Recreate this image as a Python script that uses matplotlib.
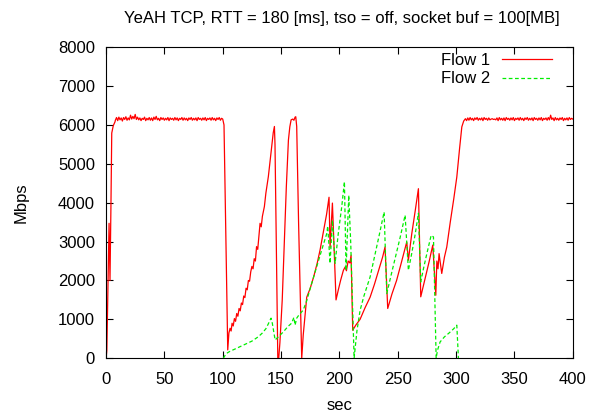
import numpy as np
import matplotlib
matplotlib.use("Agg")
import matplotlib.pyplot as plt

plt.rcParams['font.family'] = ['Liberation Sans', 'DejaVu Sans']

title = "YeAH TCP, RTT = 180 [ms], tso = off, socket buf = 100[MB]"

# Flow 1: start-up, flat steady state, congestion phase, flat again
f1_start_t = [0, 0.7, 1.6, 2.6, 3.4, 4.2, 4.9, 6.2, 7.7]
f1_start_v = [0, 200, 1800, 3470, 2000, 3900, 5790, 5980, 6080]

f1_flat1_v = [6120, 6190, 6110, 6200, 6130, 6180, 6100, 6190, 6140, 6210,
              6120, 6180, 6130, 6250, 6150, 6220, 6160, 6270, 6140, 6200,
              6130, 6180, 6110, 6170, 6140, 6200, 6110, 6170, 6130, 6190,
              6120, 6180, 6110, 6200, 6140, 6220, 6130, 6170, 6110, 6190,
              6140, 6180, 6120, 6170, 6130, 6190, 6110, 6180, 6140, 6170,
              6120, 6190, 6130, 6180, 6110, 6170, 6140, 6190, 6120, 6180,
              6130, 6170, 6110, 6180, 6140, 6190, 6120, 6170, 6130, 6180,
              6110, 6190, 6140, 6170, 6120, 6180, 6130, 6190, 6110, 6170,
              6140, 6180, 6120, 6190, 6130, 6170, 6110, 6180, 6140, 6190,
              6120, 6170, 6150]

f1_mid_t = [101.1, 104.3, 105.3, 106.3, 107.2, 108, 109, 110, 111, 112, 113,
            114, 115, 116, 117, 118, 119, 120, 121, 122, 123, 124, 125, 126,
            127, 128, 129, 130, 131, 132, 133, 134, 135.7, 137, 138, 139.1,
            140.5, 142, 143.3, 144.3, 144.8, 147.2, 148, 149, 151, 152.8, 154.5,
            156.3, 157.5, 158.6, 160, 161, 162, 162.6, 163.4, 165, 167.7, 169,
            172, 175, 178, 181, 183.4, 186, 189, 191.1, 192, 194, 197.1, 199,
            201, 203.4, 205, 206, 207.5, 209, 210, 211.4, 214, 217.7, 222,
            226.3, 230, 234, 237, 239.1, 241.4, 245, 249, 253, 257.7, 259.1,
            262, 265, 267.7, 269.7, 273, 277, 280, 282.6, 283.5, 284.5, 285.4,
            287.7, 290, 292, 295, 298, 300.6, 303, 304.9, 306.5]
f1_mid_v = [6000, 215, 650, 770, 700, 900, 830, 1020, 950, 1150, 1080, 1280,
            1220, 1420, 1380, 1600, 1560, 1800, 1760, 2000, 1980, 2220, 2360,
            2300, 2560, 2500, 2870, 2800, 3150, 3470, 3380, 3650, 3900, 4250,
            4450, 4670, 5050, 5450, 5800, 5960, 5500, 0, 0, 400, 1500, 2970,
            4400, 5610, 5950, 6130, 6150, 6120, 6200, 6210, 5960, 3500, 0, 600,
            1570, 1800, 2100, 2450, 2780, 3200, 3700, 4140, 2850, 3990, 1500,
            1750, 2000, 2260, 2350, 2250, 2500, 2450, 2650, 720, 850, 1000,
            1300, 1570, 1900, 2300, 2600, 2860, 1280, 1650, 2000, 2450, 2990,
            2520, 3200, 3800, 4360, 1580, 2000, 2500, 2910, 1620, 2500, 2300,
            2690, 2180, 2600, 2860, 3500, 4100, 4660, 5400, 5950, 6100]

f1_flat2_v = [6160, 6110, 6180, 6120, 6190, 6130, 6170, 6110, 6180, 6140,
              6190, 6120, 6170, 6130, 6180, 6110, 6190, 6140, 6170, 6120,
              6180, 6130, 6150, 6160, 6140, 6150, 6130, 6180, 6110, 6190,
              6130, 6170, 6120, 6180, 6110, 6190, 6140, 6170, 6120, 6180,
              6130, 6190, 6110, 6170, 6140, 6180, 6120, 6190, 6130, 6170,
              6110, 6180, 6140, 6190, 6120, 6170, 6130, 6180, 6110, 6190,
              6140, 6170, 6120, 6180, 6130, 6190, 6110, 6170, 6140, 6180,
              6120, 6190, 6130, 6250, 6140, 6180, 6110, 6190, 6130, 6170,
              6120, 6180, 6140, 6190, 6110, 6170, 6130, 6180, 6120, 6190,
              6140, 6170, 6150]

# Flow 2 only runs between ~100 and ~300 sec
f2_t = [100.5, 103, 106.3, 110, 115, 120, 125, 130.6, 134, 137, 139, 141.4,
        142.5, 144.9, 148, 152, 156, 159, 161, 162, 163.4, 165, 169, 172, 175,
        179, 183, 186, 189.1, 190, 192, 194, 196.3, 199, 202, 204.3, 205.7,
        208, 209.7, 212.6, 215, 217.7, 221, 226.3, 230, 234, 238.3, 240.6, 244,
        248, 252, 256.3, 259.1, 262, 265, 267.7, 269.7, 272, 275, 278.6, 280.6,
        282.9, 284, 286.3, 290, 294, 298, 300.6, 302]
f2_v = [0, 120, 180, 230, 300, 370, 440, 555, 650, 760, 880, 1030, 900, 470,
        560, 680, 820, 900, 1050, 850, 1030, 1100, 1240, 1480, 1800, 2200,
        2600, 2900, 3200, 3400, 2440, 3550, 2440, 3200, 3900, 4540, 2260,
        4190, 2960, 0, 700, 1230, 1600, 2090, 2600, 3150, 3760, 1660, 2100,
        2600, 3100, 3680, 2260, 2700, 3200, 3730, 1960, 2300, 2700, 3160, 3120,
        0, 200, 420, 550, 650, 760, 850, 0]

f1_t = np.concatenate([f1_start_t, np.arange(8, 101), f1_mid_t, np.arange(308, 401)])
f1_v = np.concatenate([f1_start_v, f1_flat1_v, f1_mid_v, f1_flat2_v])

fig = plt.figure(figsize=(5.94, 4.19), dpi=100)
ax = fig.add_axes([0.1785, 0.145, 0.7858, 0.7425])

ax.plot(f1_t, f1_v, color='#ff0000', lw=0.9, label='Flow 1')
ax.plot(f2_t, f2_v, color='#00ee00', lw=0.9, ls=(0, (3, 2)), label='Flow 2')

ax.set_xlim(0, 400)
ax.set_ylim(0, 8000)
ax.set_xticks(np.arange(0, 401, 50))
ax.set_yticks(np.arange(0, 8001, 1000))
ax.tick_params(direction='in', top=True, right=True, length=5, labelsize=12)
ax.tick_params(axis='x', pad=10)
ax.tick_params(axis='y', pad=8)
ax.set_xlabel('sec', fontsize=12, labelpad=8)
ax.set_ylabel('Mbps', fontsize=12, labelpad=21)
fig.text(0.575, 0.955, title, ha='center', va='center', fontsize=12)

leg = ax.legend(loc='upper right', bbox_to_anchor=(0.956, 0.981), frameon=False,
                markerfirst=False, fontsize=12, handlelength=3.0, borderpad=0,
                borderaxespad=0, labelspacing=0.2, handletextpad=0.75)

fig.savefig('out.png', dpi=100)
